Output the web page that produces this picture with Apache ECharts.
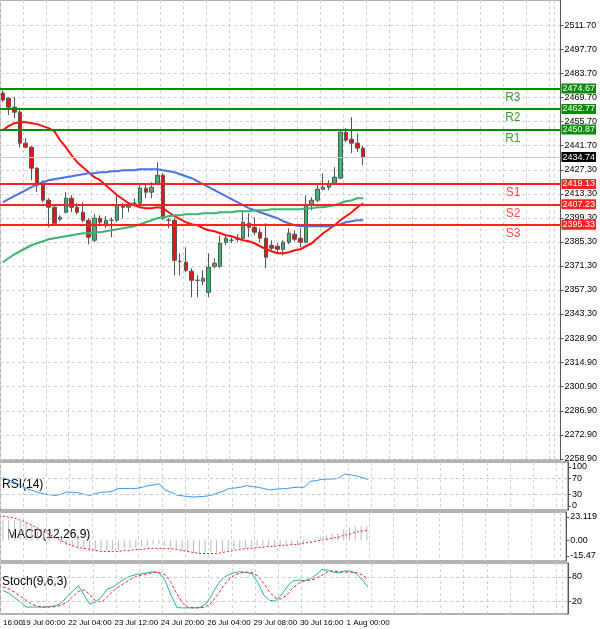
<!DOCTYPE html>
<html lang="en">
<head>
    <meta charset="UTF-8">
    <title>XAUUSD H4</title>
    <script src="https://cdn.jsdelivr.net/npm/echarts@6/dist/echarts.min.js"></script>
    <style>html,body{margin:0;padding:0;background:#fff}</style>
</head>
<body>
<div id="chart" style="width:600px;height:629px"></div>
<script>
// 4H candles
var opens = [2472.03,2469.11,2463.86,2460.95,2442.86,2440.53,2428.28,2418.36,2409.61,2405.53,2398.53,2402.61,2410.78,2405.53,2402.61,2397.95,2386.28,2399.11,2395.61,2397.95,2397.95,2406.70,2405.53,2407.86,2407.86,2416.61,2414.28,2419.53,2424.20,2397.95,2397.95,2374.03,2373.45,2368.20,2362.95,2362.36,2355.95,2371.11,2371.11,2385.11,2386.28,2386.86,2387.45,2396.20,2393.86,2390.95,2387.45,2383.36,2382.78,2381.03,2385.11,2389.78,2387.45,2385.11,2406.70,2409.61,2416.03,2417.20,2419.53,2422.45,2449.28,2445.20,2442.86,2439.95];
var closes = [2467.95,2463.86,2460.95,2442.86,2440.53,2428.28,2418.36,2409.61,2405.53,2396.20,2399.70,2410.78,2405.53,2402.61,2397.95,2388.03,2399.11,2396.78,2397.95,2397.95,2406.70,2405.53,2406.70,2407.86,2416.61,2414.28,2417.20,2424.20,2399.11,2397.95,2374.61,2374.03,2368.78,2362.95,2362.95,2364.11,2370.53,2372.86,2384.53,2387.45,2386.28,2387.45,2396.78,2393.86,2390.95,2387.45,2376.36,2381.61,2381.03,2385.11,2390.36,2386.86,2385.11,2406.70,2409.61,2416.03,2417.20,2418.95,2423.03,2449.28,2444.61,2442.86,2439.95,2434.70];
var lows = [2466.78,2459.20,2457.45,2440.53,2439.95,2421.28,2414.28,2408.45,2393.86,2395.03,2397.36,2402.03,2402.61,2401.45,2396.78,2383.95,2385.11,2394.45,2393.28,2388.03,2396.78,2399.11,2402.61,2406.11,2406.70,2410.78,2410.78,2418.36,2397.95,2393.28,2365.86,2365.86,2367.61,2353.03,2353.03,2360.03,2353.03,2369.95,2369.95,2383.36,2384.53,2385.11,2386.28,2388.03,2389.20,2385.11,2369.95,2380.45,2379.28,2377.53,2383.95,2385.70,2382.20,2384.53,2403.78,2408.45,2415.45,2415.45,2418.95,2421.86,2443.45,2437.03,2437.61,2430.03];
var highs = [2473.78,2469.70,2469.70,2463.28,2445.78,2441.11,2428.86,2421.28,2410.78,2406.70,2400.86,2414.28,2412.53,2407.86,2408.45,2399.11,2401.45,2400.86,2400.28,2399.70,2412.53,2407.86,2407.86,2410.78,2418.36,2418.36,2420.11,2431.78,2425.36,2399.11,2399.11,2378.70,2382.20,2369.95,2365.86,2368.78,2378.70,2375.78,2389.20,2389.20,2388.03,2389.78,2402.61,2402.03,2399.70,2393.28,2396.20,2386.28,2384.53,2386.28,2393.28,2392.11,2393.28,2412.53,2411.36,2418.36,2425.36,2421.28,2428.86,2450.45,2451.61,2458.03,2448.70,2441.11];

// moving averages
var maRed = [2450.45,2452.78,2454.53,2455.11,2455.11,2454.53,2453.95,2452.78,2451.61,2449.86,2444.61,2440.53,2435.86,2431.78,2428.86,2425.95,2423.03,2421.28,2418.36,2415.45,2412.53,2410.20,2407.86,2406.70,2405.53,2404.95,2404.95,2405.53,2404.95,2402.61,2400.28,2398.53,2396.78,2395.61,2395.03,2393.28,2392.11,2391.53,2390.36,2389.20,2388.61,2387.45,2386.28,2385.70,2384.53,2382.78,2381.03,2379.86,2378.70,2378.70,2379.28,2380.45,2381.03,2382.78,2384.53,2387.45,2390.36,2392.70,2395.03,2397.95,2400.28,2402.61,2405.53,2407.86];
var maBlue = [2408.45,2410.20,2411.95,2413.70,2415.45,2417.20,2418.95,2420.11,2421.28,2421.86,2422.45,2423.03,2423.61,2424.20,2424.78,2425.36,2425.36,2425.95,2425.95,2426.53,2426.53,2427.11,2427.11,2427.11,2427.70,2427.70,2427.70,2427.70,2427.11,2426.53,2425.95,2424.78,2423.61,2422.45,2420.70,2418.95,2417.20,2415.45,2413.70,2411.95,2410.20,2408.45,2406.70,2404.95,2403.78,2402.61,2401.45,2400.28,2399.11,2397.36,2396.20,2395.03,2394.45,2394.45,2394.45,2394.45,2394.45,2394.45,2395.03,2395.61,2396.78,2397.36,2397.95,2397.95];
var maGreen = [2373.45,2375.78,2378.11,2379.86,2381.61,2383.36,2384.53,2385.70,2386.86,2387.45,2388.03,2388.61,2389.20,2389.78,2390.36,2390.36,2390.95,2390.95,2391.53,2392.11,2392.70,2393.28,2393.86,2394.45,2395.61,2396.78,2397.95,2399.11,2399.70,2400.28,2400.86,2400.86,2401.45,2401.45,2401.45,2402.03,2402.03,2402.03,2402.61,2402.61,2402.61,2403.20,2403.20,2403.20,2403.78,2403.78,2403.78,2404.36,2404.36,2404.36,2404.36,2404.36,2404.36,2404.95,2404.95,2405.53,2405.53,2406.11,2406.70,2407.86,2409.03,2409.61,2410.78,2410.78];

// indicators
var rsi = [73,67,61,53,45,40,35,31,29,27,30,36,35,34,30,27,32,35,36,38,45,45,45,45,48,52,54,57,41,35,28,26,24,23,24,25,28,33,38,45,46,48,52,50,48,45,41,43,44,45,47,48,48,63,65,68,69,69,72,82,80,77,73,68];
var macdHist = [20,20,20,19,18,16,13,9,4,0,-3,-5,-7,-8,-9,-10,-10,-10,-10,-9,-9,-8,-8,-7,-6,-5,-4,-3,-5,-7,-9,-11,-12,-13,-13,-13,-12,-12,-11,-10,-9,-8,-7,-7,-6,-6,-6,-6,-6,-5,-5,-5,-4,-1,1,3,5,6,7,11,13,14,14,14];
var macdSignal = [24,23,22,20,18,15,12,9,6,3,0,-3,-5,-7,-8,-9,-10,-11,-11,-11,-11,-10,-10,-9,-9,-8,-8,-8,-8,-8,-9,-10,-11,-12,-13,-13,-13,-13,-12,-11,-10,-9,-8,-8,-7,-7,-6,-6,-5,-5,-4,-4,-3,-2,-1,0,1,2,3,5,6,8,9,10];
var stochMain = [46,40,28,18,5,5,5,5,6,8,14,30,45,58,35,12,18,30,50,55,65,76,82,86,88,91,93,89,70,35,4,3,3,3,4,12,35,60,78,86,91,93,91,88,65,35,22,20,35,55,70,72,71,75,85,98,97,92,90,95,94,88,72,55];
var stochSignal = [55,50,42,32,22,12,7,5,5,6,9,17,30,44,48,36,20,18,30,45,56,65,74,81,85,88,91,91,85,66,38,15,4,3,3,5,16,35,57,74,85,90,92,91,82,64,42,28,25,35,52,64,70,72,76,84,93,95,93,92,92,91,85,75];

// levels and axis ticks
var resistances = [['R1', 2450.87], ['R2', 2462.77], ['R3', 2474.67]];
var supports = [['S1', 2419.13], ['S2', 2407.23], ['S3', 2395.33]];
var lastPrice = 2434.74;
var priceTicks = [2511.70,2497.70,2483.70,2469.70,2455.70,2441.70,2427.30,2413.30,2399.30,2385.30,2371.30,2357.30,2343.30,2328.90,2314.90,2300.90,2286.90,2272.90,2258.90];
var rsiTicks = [0, 30, 70, 100];
var macdTicks = [-15.47, 0, 23.119];
var stochTicks = [0, 20, 80, 100];
var timeLabels = {0: '16:00', 7: '19 Jul 00:00', 15: '22 Jul 04:00', 23: '23 Jul 12:00', 31: '24 Jul 20:00', 39: '26 Jul 04:00', 47: '29 Jul 08:00', 55: '30 Jul 16:00', 63: '1 Aug 00:00'};
var slotCount = 98;

var categories = [];
for (var i = 0; i < slotCount; i++) categories.push(String(i));
var candles = opens.map(function (o, i) { return [o, closes[i], lows[i], highs[i]]; });

var FONT = 'Liberation Sans, sans-serif';
var gridLine = {show: true, interval: 3, lineStyle: {color: '#d0d0d0', type: [3, 3], width: 1}};

function levelLines(list, color) {
    var out = [];
    list.forEach(function (l) {
        out.push({yAxis: l[1], lineStyle: {color: color, width: 2, type: 'solid'},
            label: {show: true, position: 'end', distance: 1, formatter: l[1].toFixed(2), color: '#fff',
                backgroundColor: color, padding: [1, 1, 0, 1], fontSize: 9, fontFamily: FONT}});
        out.push({yAxis: l[1], lineStyle: {color: color, width: 2, type: 'solid'},
            label: {show: true, position: 'insideEndBottom', distance: [40, 3], formatter: l[0],
                color: color === '#0a8a0a' ? '#3a9a3a' : '#ff4a4a', fontSize: 12, fontFamily: FONT}});
    });
    return out;
}

function xAxisFor(gi, showLabels) {
    return {
        type: 'category', gridIndex: gi, data: categories, boundaryGap: true,
        axisLine: {show: false}, axisTick: {show: false},
        axisLabel: {
            show: showLabels, fontSize: 8, fontFamily: FONT, color: '#000', margin: 5,
            interval: 0, showMinLabel: true, showMaxLabel: true,
            formatter: function (v) { return timeLabels[+v] || ''; },
            alignMinLabel: 'left'
        },
        splitLine: gridLine
    };
}

function yAxisFor(gi, min, max, ticks, fmt) {
    return {
        type: 'value', gridIndex: gi, position: 'right', min: min, max: max, scale: true,
        axisLine: {show: true, lineStyle: {color: '#555', width: 1}},
        axisTick: {show: true, length: 3, inside: false, customValues: ticks, lineStyle: {color: '#555'}},
        axisLabel: {show: true, customValues: ticks, fontSize: 9, fontFamily: FONT, color: '#000', margin: 4, formatter: fmt},
        splitLine: {show: false}
    };
}

var chart = echarts.init(document.getElementById('chart'));
var option = {
    animation: false,
    backgroundColor: '#fff',
    grid: [
        {left: 0, right: 32, top: 0, height: 460, show: true, borderColor: '#666', borderWidth: 1},
        {left: 0, right: 32, top: 462, height: 48, show: true, borderColor: '#666', borderWidth: 1},
        {left: 0, right: 32, top: 512, height: 49, show: true, borderColor: '#666', borderWidth: 1},
        {left: 0, right: 32, top: 563, height: 51, show: true, borderColor: '#666', borderWidth: 1}
    ],
    xAxis: [xAxisFor(0, false), xAxisFor(1, false), xAxisFor(2, false), xAxisFor(3, true)],
    yAxis: [
        (function () {
            var a = yAxisFor(0, 2258.2, 2526.3, priceTicks, function (v) { return v.toFixed(2); });
            a.splitLine = {show: true, lineStyle: {color: '#d0d0d0', type: [3, 3]}};
            return a;
        })(),
        yAxisFor(1, -10.3, 112.8, rsiTicks, function (v) { return String(v); }),
        yAxisFor(2, -20.42, 28.07, macdTicks, function (v) { return v === 0 ? '0.00' : String(v); }),
        yAxisFor(3, -12.2, 114.6, stochTicks, function (v) { return String(v); })
    ],
    graphic: [
        {type: 'text', left: 2, top: 479, style: {text: 'RSI(14)', fontSize: 12, fontFamily: FONT, fill: '#000'}},
        {type: 'text', left: 7, top: 529, style: {text: 'MACD(12,26,9)', fontSize: 12, fontFamily: FONT, fill: '#000'}},
        {type: 'text', left: 2, top: 576, style: {text: 'Stoch(9,6,3)', fontSize: 12, fontFamily: FONT, fill: '#000'}}
    ],
    series: [
        {
            type: 'candlestick', xAxisIndex: 0, yAxisIndex: 0, data: candles, barWidth: 4, z: 3,
            itemStyle: {color: '#3cb371', color0: '#ee1111', borderColor: '#555', borderColor0: '#555', borderWidth: 1},
            markLine: {
                symbol: 'none', silent: true, animation: false,
                data: [{yAxis: lastPrice, lineStyle: {color: '#c8c8c8', width: 1, type: 'solid'},
                    label: {show: true, position: 'end', distance: 1, formatter: lastPrice.toFixed(2), color: '#fff',
                        backgroundColor: '#000', padding: [1, 1, 0, 1], fontSize: 9, fontFamily: FONT}}]
                    .concat(levelLines(resistances, '#0a8a0a'))
                    .concat(levelLines(supports, '#ff2222'))
            }
        },
        {type: 'line', xAxisIndex: 0, yAxisIndex: 0, data: maRed, symbol: 'none', lineStyle: {color: '#ff1010', width: 2}, z: 4},
        {type: 'line', xAxisIndex: 0, yAxisIndex: 0, data: maBlue, symbol: 'none', lineStyle: {color: '#4a72e0', width: 2}, z: 4},
        {type: 'line', xAxisIndex: 0, yAxisIndex: 0, data: maGreen, symbol: 'none', lineStyle: {color: '#3cb371', width: 2}, z: 4},
        {
            type: 'line', xAxisIndex: 1, yAxisIndex: 1, data: rsi, symbol: 'none', lineStyle: {color: '#3399ff', width: 1},
            markLine: {symbol: 'none', silent: true, label: {show: false},
                lineStyle: {color: '#c8c8c8', type: [3, 3], width: 1}, data: [{yAxis: 70}, {yAxis: 30}]}
        },
        {type: 'bar', xAxisIndex: 2, yAxisIndex: 2, data: macdHist, barWidth: 1, itemStyle: {color: '#b8b8b8'}},
        {type: 'line', xAxisIndex: 2, yAxisIndex: 2, data: macdSignal, symbol: 'none', lineStyle: {color: '#ff2020', width: 1, type: [2, 2]}},
        {
            type: 'line', xAxisIndex: 3, yAxisIndex: 3, data: stochMain, symbol: 'none', lineStyle: {color: '#20b2aa', width: 1},
            markLine: {symbol: 'none', silent: true, label: {show: false},
                lineStyle: {color: '#c8c8c8', type: [3, 3], width: 1}, data: [{yAxis: 80}, {yAxis: 20}]}
        },
        {type: 'line', xAxisIndex: 3, yAxisIndex: 3, data: stochSignal, symbol: 'none', lineStyle: {color: '#ff2020', width: 1, type: [3, 2]}}
    ]
};
chart.setOption(option);
</script>
</body>
</html>
